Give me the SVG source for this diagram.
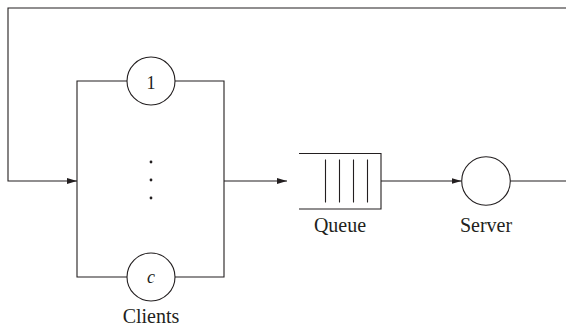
<svg xmlns="http://www.w3.org/2000/svg" width="566" height="328" viewBox="0 0 566 328">
<defs>
<marker id="arr" viewBox="0 0 10 6" refX="10" refY="3" markerWidth="10" markerHeight="6" markerUnits="userSpaceOnUse" orient="auto">
<path d="M0,0 L10,3 L0,6 Z" fill="#231f20"/>
</marker>
</defs>
<style>
.ln{fill:none;stroke:#231f20;stroke-width:1.1}
.nd{fill:#fff;stroke:#231f20;stroke-width:1.1}
.t{font-family:"Liberation Serif","Times New Roman",serif;font-size:20px;fill:#231f20;text-anchor:middle}
.n{font-family:"Liberation Serif","Times New Roman",serif;font-size:18px;fill:#231f20;text-anchor:middle}
</style>
<rect width="566" height="328" fill="#fff"/>
<g id="connectors">
<path class="ln" d="M566,8 H8 V181 H77" marker-end="url(#arr)"/>
<path class="ln" d="M224,181 H287" marker-end="url(#arr)"/>
<path class="ln" d="M381,181 H461.5" marker-end="url(#arr)"/>
<path class="ln" d="M510,181 H566"/>
</g>
<g id="clients">
<path class="ln" d="M127,81 H77 V277 H127 M175,81 H224 V277 H175"/>
<g id="client1">
<circle class="nd" cx="151" cy="81" r="24"/>
<text class="n" x="151" y="89">1</text>
</g>
<g id="dots" fill="#231f20">
<circle cx="151" cy="162" r="1.4"/>
<circle cx="151" cy="180" r="1.4"/>
<circle cx="151" cy="198" r="1.4"/>
</g>
<g id="clientc">
<circle class="nd" cx="151" cy="277" r="24"/>
<text class="n" x="151" y="283" font-style="italic">c</text>
</g>
<text class="t" x="151" y="323">Clients</text>
</g>
<g id="queue">
<path class="ln" d="M299,153.5 H381 V209 H299"/>
<path class="ln" d="M325.5,159.5 V202.5 M339.5,159.5 V202.5 M353.5,159.5 V202.5 M367.5,159.5 V202.5"/>
<text class="t" x="340" y="232">Queue</text>
</g>
<g id="server">
<circle class="nd" cx="486" cy="181" r="24.3"/>
<text class="t" x="486" y="232">Server</text>
</g>
</svg>
